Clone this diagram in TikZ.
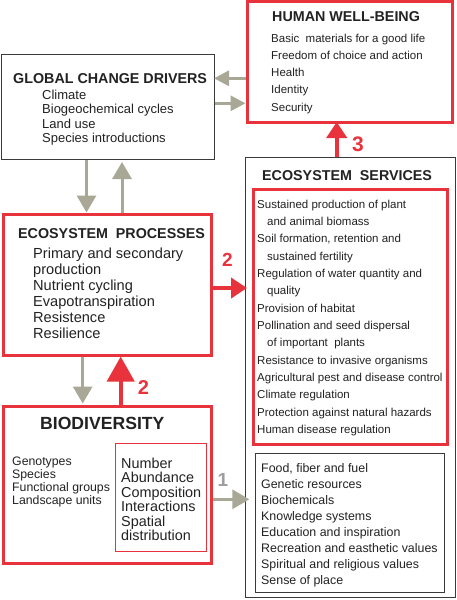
\documentclass[tikz,border=0pt]{standalone}
\usepackage{fontspec}
\setmainfont{Liberation Sans}
\usetikzlibrary{arrows.meta}
\definecolor{myred}{HTML}{E8323C}
\definecolor{arrgray}{HTML}{A9A896}
\definecolor{txt}{HTML}{222222}
\definecolor{boxline}{HTML}{3A3A3A}
\definecolor{onegray}{HTML}{9E9E9E}
\begin{document}
\begin{tikzpicture}[x=1pt,y=-1pt,
  redbox/.style={draw=myred,line width=3pt,inner sep=0pt,outer sep=0pt,anchor=north west},
  thinred/.style={draw=myred,line width=1pt,inner sep=0pt,outer sep=0pt,anchor=north west},
  blkbox/.style={draw=boxline,line width=1pt,inner sep=0pt,outer sep=0pt,anchor=north west},
  ttl/.style={anchor=base west,inner sep=0pt,text=txt,font=\bfseries\fontsize{14.3}{16}\selectfont},
  hwbtxt/.style={anchor=base west,inner sep=0pt,text=txt,font=\fontsize{11.5}{13}\selectfont},
  gcdtxt/.style={anchor=base west,inner sep=0pt,text=txt,font=\fontsize{13}{15}\selectfont},
  estxt/.style={anchor=base west,inner sep=0pt,text=txt,font=\fontsize{11.5}{13}\selectfont},
  esbtxt/.style={anchor=base west,inner sep=0pt,text=txt,font=\fontsize{12.4}{14}\selectfont},
  eptxt/.style={anchor=base west,inner sep=0pt,text=txt,font=\fontsize{14.6}{16}\selectfont},
  biotxt/.style={anchor=base west,inner sep=0pt,text=txt,font=\fontsize{12.3}{14}\selectfont},
  bioin/.style={anchor=base west,inner sep=0pt,text=txt,font=\fontsize{14.4}{16}\selectfont},
  garrowS/.style={draw=arrgray,line width=3pt,-{Triangle[width=15pt,length=15pt]}},
  garrow/.style={draw=arrgray,line width=3pt,-{Triangle[width=19pt,length=17pt]}},
  rarrow/.style={draw=myred,line width=4pt,-{Triangle[width=20pt,length=16pt]}},
  rarrowL/.style={draw=myred,line width=4pt,-{Triangle[width=27pt,length=25pt]}},
  num/.style={inner sep=0pt,text=myred}
]
\useasboundingbox (0,0) rectangle (456,600);
\fill[white] (0,0) rectangle (456,600);

% boxes
\node[redbox,minimum width=205pt,minimum height=121pt] (hwb) at (247.5,1.5) {};
\node[blkbox,minimum width=213pt,minimum height=105pt] (gcd) at (1,54.5) {};
\node[blkbox,minimum width=209.5pt,minimum height=440pt] (es) at (245.5,157.5) {};
\node[redbox,minimum width=194pt,minimum height=255pt] (esr) at (253,189.5) {};
\node[blkbox,minimum width=189pt,minimum height=139pt] (esb) at (255.5,453.5) {};
\node[redbox,minimum width=208.7pt,minimum height=141.5pt] (ep) at (3,214) {};
\node[redbox,minimum width=208.7pt,minimum height=157.3pt] (bio) at (3,406) {};
\node[thinred,minimum width=91pt,minimum height=108.4pt] (bioinbox) at (115.7,443.3) {};

% human well-being
\node[ttl] (hwbt) at (272,21.7) {HUMAN WELL-BEING};
\foreach \t [count=\i from 0] in {Basic~~materials for a good life, Freedom of choice and action, Health, Identity, Security}
  \node[hwbtxt] (hwb-\i) at (271,42+17.3*\i) {\t};

% global change drivers
\node[ttl] (gcdt) at (13,83.3) {GLOBAL CHANGE DRIVERS};
\foreach \t [count=\i from 0] in {Climate, Biogeochemical cycles, Land use, Species introductions}
  \node[gcdtxt] (gcd-\i) at (42,99+14.5*\i) {\t};

% ecosystem services
\node[ttl] (est) at (262,180) {ECOSYSTEM~~SERVICES};
\foreach \dx/\t [count=\i from 0] in {0/Sustained production of plant, 10/and animal biomass,
   {0/Soil formation, retention and}, 10/sustained fertility, 0/Regulation of water quantity and,
   10/quality, 0/Provision of habitat, 0/Pollination and seed dispersal, 10/of important~~plants,
   0/Resistance to invasive organisms, 0/Agricultural pest and disease control, 0/Climate regulation,
   0/Protection against natural hazards, 0/Human disease regulation}
  \node[estxt] (es-\i) at (257+\dx,208+17.35*\i) {\t};
\foreach \t [count=\i from 0] in {{Food, fiber and fuel}, Genetic resources, Biochemicals, Knowledge systems,
   Education and inspiration, Recreation and easthetic values, Spiritual and religious values, Sense of place}
  \node[esbtxt] (esb-\i) at (261,472.7+15.95*\i) {\t};

% ecosystem processes
\node[ttl] (ept) at (18,238.3) {ECOSYSTEM~~PROCESSES};
\foreach \t [count=\i from 0] in {Primary and secondary, production, Nutrient cycling, Evapotranspiration, Resistence, Resilience}
  \node[eptxt] (ep-\i) at (33,258.3+16*\i) {\t};

% biodiversity
\node[ttl,font=\bfseries\fontsize{17.6}{19}\selectfont] (biot) at (40,429.3) {BIODIVERSITY};
\foreach \t [count=\i from 0] in {Genotypes, Species, Functional groups, Landscape units}
  \node[biotxt] (bio-\i) at (12,465+13*\i) {\t};
\foreach \t [count=\i from 0] in {Number, Abundance, Composition, Interactions, Spatial, distribution}
  \node[bioin] (bin-\i) at (121,468.3+14.5*\i) {\t};

% arrows
\draw[garrowS,shorten <=1.5pt] (hwb.west |- 0,78.3) -- (gcd.east |- 0,78.3);
\draw[garrowS,shorten <=0.5pt,shorten >=2pt] (gcd.east |- 0,103.3) -- (hwb.west |- 0,103.3);
\draw[garrow,shorten <=0.5pt,shorten >=1.5pt] (86.5,0 |- gcd.south) -- (86.5,0 |- ep.north);
\draw[garrow,shorten <=1.5pt,shorten >=2.5pt] (122,0 |- ep.north) -- (122,0 |- gcd.south);
\draw[garrow,shorten <=1.5pt,shorten >=2.5pt] (82.7,0 |- ep.south) -- (82.7,0 |- bio.north);
\draw[rarrowL,shorten <=1.5pt,shorten >=1pt] (120.7,0 |- bio.north) -- (120.7,0 |- ep.south);
\draw[rarrow,shorten <=1.5pt,shorten >=-1.5pt] (ep.east |- 0,288) -- (es.west |- 0,288);
\draw[rarrow,shorten <=0.5pt,shorten >=-0.5pt] (336.7,0 |- es.north) -- (336.7,0 |- hwb.south);
\draw[garrow,shorten <=1.5pt,shorten >=-3.8pt] (bio.east |- 0,499.3) -- (es.west |- 0,499.3);

% numbers
\node[num,font=\bfseries\fontsize{21}{21}\selectfont] (n3) at (358,144.5) {3};
\node[num,font=\bfseries\fontsize{19}{19}\selectfont] (n2a) at (227.5,260) {2};
\node[num,font=\bfseries\fontsize{20}{20}\selectfont] (n2b) at (143.5,387.5) {2};
\node[num,text=onegray,font=\bfseries\fontsize{19}{19}\selectfont] (n1) at (223,480) {1};
\end{tikzpicture}
\end{document}
